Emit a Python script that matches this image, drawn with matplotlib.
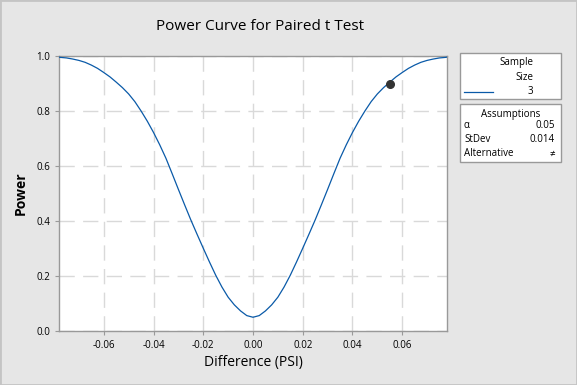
import matplotlib
matplotlib.use("Agg")
import matplotlib.pyplot as plt

plt.rcParams['font.family'] = ['Open Sans', 'DejaVu Sans']

# values
diff = [-0.078, -0.0775, -0.075, -0.0725, -0.070, -0.0675, -0.065, -0.0625,
        -0.060, -0.0575, -0.055, -0.0525, -0.050, -0.0475, -0.045, -0.0425,
        -0.040, -0.0375, -0.035, -0.0325, -0.030, -0.0275, -0.025, -0.0225,
        -0.020, -0.0175, -0.015, -0.0125, -0.010, -0.0075, -0.005, -0.0025,
        0.0,
        0.0025, 0.005, 0.0075, 0.010, 0.0125, 0.015, 0.0175, 0.020,
        0.0225, 0.025, 0.0275, 0.030, 0.0325, 0.035, 0.0375, 0.040,
        0.0425, 0.045, 0.0475, 0.050, 0.0525, 0.055, 0.0575, 0.060,
        0.0625, 0.065, 0.0675, 0.070, 0.0725, 0.075, 0.0775, 0.078]
power = [0.996, 0.995, 0.993, 0.989, 0.984, 0.977, 0.967, 0.955,
         0.940, 0.924, 0.905, 0.885, 0.862, 0.834, 0.800, 0.763,
         0.722, 0.677, 0.628, 0.572, 0.515, 0.459, 0.404, 0.352,
         0.301, 0.251, 0.203, 0.160, 0.123, 0.095, 0.073, 0.056,
         0.050,
         0.056, 0.073, 0.095, 0.123, 0.160, 0.203, 0.251, 0.301,
         0.352, 0.404, 0.459, 0.515, 0.572, 0.628, 0.677, 0.722,
         0.763, 0.800, 0.834, 0.862, 0.885, 0.905, 0.924, 0.940,
         0.955, 0.967, 0.977, 0.984, 0.989, 0.993, 0.995, 0.996]
target_x = [0.055]
target_y = [0.90]

xticks = [-0.06, -0.04, -0.02, 0.00, 0.02, 0.04, 0.06]
yticks = [0.0, 0.2, 0.4, 0.6, 0.8, 1.0]

sample_size = "3"
assumptions = [("α", "0.05"), ("StDev", "0.014"), ("Alternative", "≠")]

bg = "#e6e6e6"
fig = plt.figure(figsize=(5.77, 3.85), dpi=100, facecolor=bg)
fig.patches.append(plt.Rectangle((0, 0), 1, 1, transform=fig.transFigure,
                                 facecolor="none", edgecolor="#c4c4c4", lw=2))
ax = fig.add_axes([59/577, 1 - 331/385, (447-59)/577, (331-56)/385])
ax.set_facecolor("white")

ax.plot(diff, power, color="#0a5aa8", lw=0.9, zorder=3)
ax.plot(target_x, target_y, 'o', color="#333333", ms=5.5, zorder=4)

ax.set_xlim(-0.078, 0.078)
ax.set_ylim(0, 1.0)
ax.set_xticks(xticks)
ax.set_xticklabels(["%.2f" % t for t in xticks])
ax.set_yticks(yticks)
ax.set_yticklabels(["%.1f" % t for t in yticks])
ax.tick_params(labelsize=7, colors="#999999", labelcolor="black", length=3, width=0.8)
ax.grid(True, color="#d9d9d9", lw=1.0, dashes=(11, 6))
for s in ax.spines.values():
    s.set_color("#999999")
    s.set_linewidth(1.0)

ax.set_xlabel("Difference (PSI)", fontsize=10, labelpad=3)
ax.set_ylabel("Power", fontsize=10, fontweight="bold", labelpad=6)
fig.text(260/577, 1 - 27/385, "Power Curve for Paired t Test", fontsize=11,
         ha="center", va="center")

# legend boxes
def box(x0, y0, x1, y1):
    fig.patches.append(plt.Rectangle((x0/577, 1 - y1/385), (x1-x0)/577, (y1-y0)/385,
                                     transform=fig.transFigure, facecolor="white",
                                     edgecolor="#999999", lw=1.0))

box(460, 53, 561, 99)
fig.text(533/577, 1 - 63/385, "Sample", fontsize=7, ha="right", va="center")
fig.text(533/577, 1 - 77/385, "Size", fontsize=7, ha="right", va="center")
fig.text(533/577, 1 - 91/385, sample_size, fontsize=7, ha="right", va="center")
fig.lines.append(plt.Line2D([464/577, 493/577], [1 - 92/385, 1 - 92/385],
                            transform=fig.transFigure, color="#0a5aa8", lw=0.9))

box(460, 104, 561, 162)
fig.text(511/577, 1 - 114/385, "Assumptions", fontsize=7, ha="center", va="center")
for i, (k, v) in enumerate(assumptions):
    y = 1 - (126 + i*14)/385
    fig.text(464/577, y, k, fontsize=7, ha="left", va="center")
    fig.text(555/577, y, v, fontsize=7, ha="right", va="center")

fig.savefig("out.png", dpi=100, facecolor=bg)
